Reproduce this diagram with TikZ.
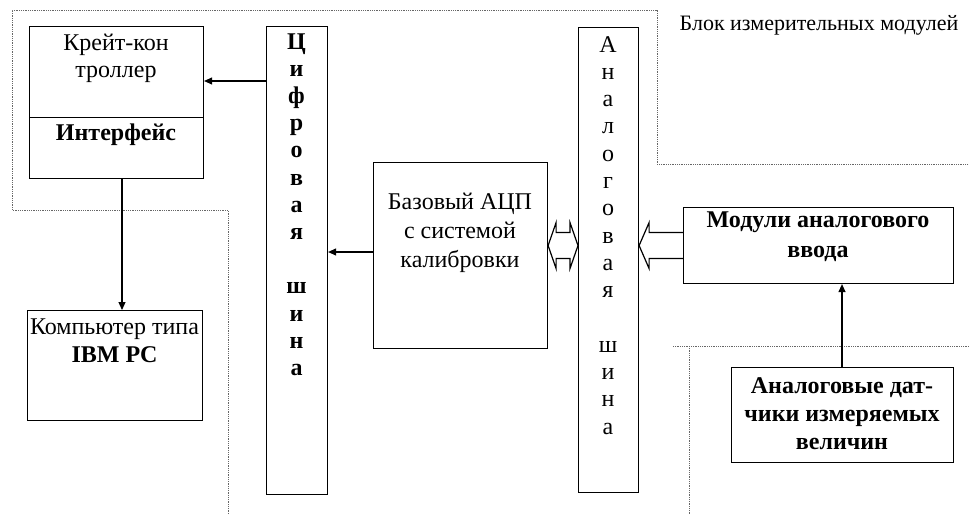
\documentclass[tikz,border=0pt]{standalone}
\usepackage{fontspec}
\setmainfont{Liberation Serif}
\usetikzlibrary{calc,arrows.meta}
\begin{document}
\begin{tikzpicture}[x=1pt,y=-1pt,
  box/.style={draw,line width=1.1pt,inner sep=0pt,anchor=north west},
  txt/.style={inner sep=0pt,align=center,font=\fontsize{24}{27}\selectfont},
  btxt/.style={txt,font=\fontsize{24}{27}\selectfont\bfseries},
  bord/.style={draw=black!60,densely dotted,line width=0.8pt},
  conn/.style={line width=1.1pt,-{Triangle[length=8pt,width=7pt]}},
  hollow/.style={line width=1.2pt,line join=miter}]
\useasboundingbox (0,0) rectangle (969,514);
% dotted borders
\draw[bord] (228,514) -- (228,210) -- (12,210) -- (12,10) -- (657,10) -- (657,164) -- (969,164);
\draw[bord] (673,346) -- (969,346);
\draw[bord] (689,346) -- (689,514);
% boxes
\node[box,minimum width=174,minimum height=91] (crate) at (29,26) {};
\node[box,minimum width=174,minimum height=61] (iface) at (29,117) {};
\node[box,minimum width=175,minimum height=110] (pc) at (27,310) {};
\node[box,minimum width=61,minimum height=468] (dbus) at (266,26) {};
\node[box,minimum width=174,minimum height=186] (adc) at (373,162) {};
\node[box,minimum width=60,minimum height=465] (abus) at (578,27) {};
\node[box,minimum width=270,minimum height=76] (mod) at (683,207) {};
\node[box,minimum width=222,minimum height=95] (sens) at (731,367) {};
% texts
\node[txt] (tcrate) at (116,58) {Крейт-кон\\троллер};
\node[btxt] (tiface) at (116,135) {Интерфейс};
\node[txt,font=\fontsize{24}{28}\selectfont] (tpc) at (114.5,341) {Компьютер типа\\\textbf{IBM PC}};
\node[txt,font=\fontsize{24}{29}\selectfont] (tadc) at (460,233) {Базовый АЦП\\с системой\\калибровки};
\node[btxt,font=\fontsize{24}{30}\selectfont\bfseries] (tmod) at (818,237) {Модули аналогового\\ввода};
\node[btxt,font=\fontsize{24}{28}\selectfont\bfseries] (tsens) at (842,414) {Аналоговые дат-\\чики измеряемых\\величин};
\node[txt,font=\fontsize{22}{26}\selectfont] (tblock) at (819,25) {Блок измерительных модулей};
% bus letters
\foreach \ch/\k in {Ц/0,и/1,ф/2,р/3,о/4,в/5,а/6,я/7,ш/9,и/10,н/11,а/12}
  \node[btxt,anchor=base] at (296.5,{49+27.2*\k}) {\ch};
\foreach \ch/\k in {А/0,н/1,а/2,л/3,о/4,г/5,о/6,в/7,а/8,я/9,ш/11,и/12,н/13,а/14}
  \node[txt,anchor=base] at (608,{52+27.3*\k}) {\ch};
% connectors
\draw[conn] (dbus.west |- 0,81) -- (crate.east |- 0,81);
\draw[conn] (adc.west |- 0,252) -- (dbus.east |- 0,252);
\draw[conn] (iface.south -| 122,0) -- (pc.north -| 122,0);
\draw[conn] (sens.north -| 842,0) -- (mod.south -| 842,0);
% hollow block arrows
\coordinate (t1) at (abus.east |- mod.west);
\draw[hollow] ($(mod.west)+(0,-13)$) -- ($(t1)+(10,-13)$) -- ++(0,-10) -- (t1)
  -- ++(10,23) -- ++(0,-10) -- ($(mod.west)+(0,13)$);
\coordinate (dl) at (adc.east |- mod.west);
\coordinate (dr) at (abus.west |- mod.west);
\draw[hollow] (dl) -- ++(8,-23) -- ++(0,10) -- ($(dr)+(-8,-13)$) -- ++(0,-10) -- (dr)
  -- ++(-8,23) -- ++(0,-10) -- ($(dl)+(8,13)$) -- ++(0,10) -- cycle;
\end{tikzpicture}
\end{document}
